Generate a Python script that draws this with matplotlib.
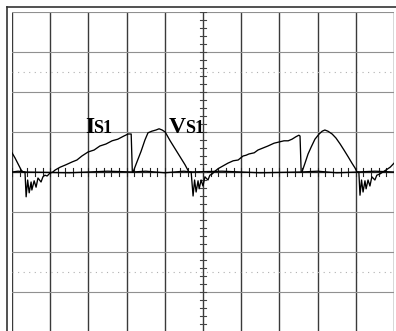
import matplotlib.pyplot as plt
import numpy as np

# screen units: 10 horizontal divisions, 8 vertical divisions (centre = 0)
is_t = [0.00, 0.16, 0.34, 0.37, 0.41, 0.45, 0.50, 0.52, 0.58, 0.63, 0.68, 0.76, 0.81, 0.86, 0.92, 0.99,
        1.07, 1.13, 1.26, 1.41, 1.57, 1.70, 1.83, 1.99, 2.15, 2.30, 2.46, 2.62, 2.77, 2.93, 3.04, 3.12, 3.15,
        3.50, 4.00, 4.50, 4.69,
        4.74, 4.78, 4.82, 4.87, 4.90, 4.95, 5.00, 5.05, 5.13, 5.18, 5.24, 5.29, 5.39, 5.52, 5.65, 5.79, 5.92,
        6.05, 6.13, 6.20, 6.34, 6.44, 6.57, 6.70, 6.86, 6.99, 7.12, 7.23, 7.33, 7.43, 7.51, 7.54, 7.57,
        8.00, 8.50, 9.08,
        9.11, 9.15, 9.19, 9.24, 9.27, 9.32, 9.37, 9.42, 9.50, 9.55, 9.63, 9.71, 9.79, 9.90, 10.00]
is_v = [0.00, 0.02, 0.00, -0.62, -0.20, -0.52, -0.25, -0.45, -0.22, -0.38, -0.15, -0.25, -0.12, -0.08, -0.10, -0.03,
        0.00, 0.05, 0.12, 0.18, 0.25, 0.30, 0.40, 0.50, 0.55, 0.65, 0.70, 0.78, 0.82, 0.90, 0.95, 0.95, 0.00,
        0.02, -0.02, 0.02, 0.00,
        -0.60, -0.20, -0.50, -0.22, -0.42, -0.20, -0.35, -0.12, -0.20, -0.08, -0.05, 0.00, 0.08, 0.15, 0.22, 0.28, 0.30,
        0.40, 0.42, 0.45, 0.48, 0.55, 0.60, 0.65, 0.72, 0.75, 0.78, 0.78, 0.82, 0.88, 0.92, 0.90, 0.00,
        0.02, -0.02, 0.00,
        -0.58, -0.20, -0.50, -0.22, -0.42, -0.20, -0.35, -0.12, -0.20, -0.08, -0.05, 0.00, 0.05, 0.12, 0.22]

vs_t = [0.00, 0.08, 0.16, 0.24, 0.29, 1.50, 2.50,
        3.17, 3.27, 3.38, 3.48, 3.56, 3.66, 3.77, 3.85, 3.93, 4.01, 4.14, 4.27, 4.40, 4.53, 4.63,
        5.50, 6.50,
        7.59, 7.67, 7.75, 7.83, 7.93, 8.04, 8.12, 8.19, 8.27, 8.38, 8.48, 8.59, 8.69, 8.80, 8.90, 8.98, 9.03,
        9.50, 10.00]
vs_v = [0.48, 0.35, 0.20, 0.05, 0.00, -0.02, 0.02,
        0.00, 0.25, 0.52, 0.80, 0.98, 1.02, 1.05, 1.08, 1.05, 1.00, 0.78, 0.58, 0.38, 0.18, 0.00,
        0.02, -0.02,
        0.00, 0.22, 0.45, 0.62, 0.82, 0.95, 1.02, 1.05, 1.02, 0.95, 0.85, 0.70, 0.55, 0.38, 0.22, 0.10, 0.00,
        0.02, 0.00]

W, H = 396, 331
fig = plt.figure(figsize=(W / 100, H / 100), dpi=100)
ax = fig.add_axes([12 / W, (H - 332) / H, 382 / W, 320 / H])
ax.set_xlim(0, 10)
ax.set_ylim(-4, 4)
ax.axis('off')

# graticule
for x in range(11):
    ax.axvline(x, color='#3a3a3a', linewidth=1.0, zorder=1)
for y in range(-4, 5):
    ax.axhline(y, color='#909090', linewidth=0.8, zorder=1)
for y in [2.5, -2.5]:
    ax.axhline(y, color='#b0b0b0', linewidth=0.8, linestyle=(0, (1, 4)), zorder=1)

ax.axhline(0, color='#222222', linewidth=0.9, zorder=2)
for x in np.arange(0, 10.01, 0.2):
    ax.plot([x, x], [-0.1, 0.1], color='#222222', linewidth=0.8, zorder=2)
for y in np.arange(-4, 4.01, 0.2):
    ax.plot([4.92, 5.08], [y, y], color='#444444', linewidth=0.8, zorder=2)

# traces
ax.plot(is_t, is_v, color='black', linewidth=0.95, zorder=3)
ax.plot(vs_t, vs_v, color='black', linewidth=0.95, zorder=3)

# labels
font = ['Liberation Serif', 'DejaVu Serif']
ax.text(1.92, 0.97, 'I', family=font, fontweight='bold', fontsize=17, va='baseline', ha='left', zorder=4)
ax.text(2.12, 0.97, 'S1', family=font, fontweight='bold', fontsize=13, va='baseline', ha='left', zorder=4)
ax.text(4.10, 0.97, 'V', family=font, fontweight='bold', fontsize=17, va='baseline', ha='left', zorder=4)
ax.text(4.52, 0.97, 'S1', family=font, fontweight='bold', fontsize=13, va='baseline', ha='left', zorder=4)

# outer frame of the screen
fig.add_artist(plt.Line2D([7 / W, 7 / W], [0, 1 - 7 / H], color='#333333', linewidth=1.2))
fig.add_artist(plt.Line2D([7 / W, 1], [1 - 7 / H, 1 - 7 / H], color='#333333', linewidth=1.2))

fig.savefig('out.png', dpi=100)
